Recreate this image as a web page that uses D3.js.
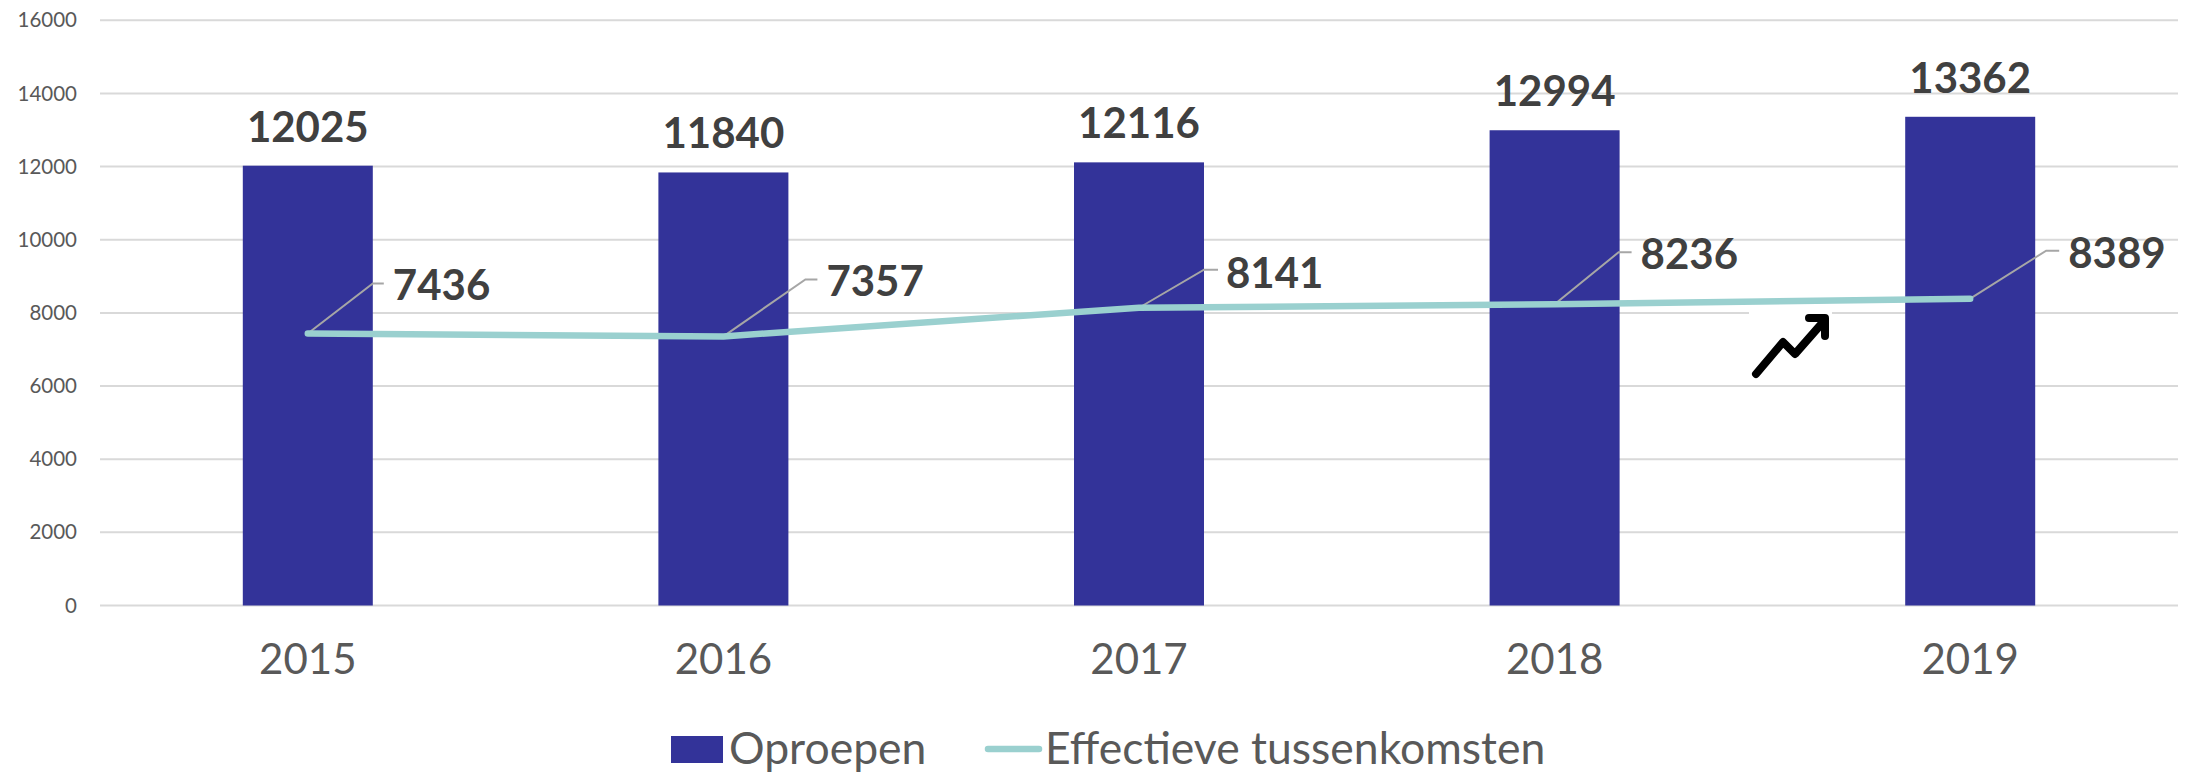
<!DOCTYPE html>
<html><head><meta charset="utf-8">
<style>html,body{margin:0;padding:0;background:#fff;overflow:hidden}svg{display:block}text{font-family:Lato,sans-serif}</style>
<script src="https://cdn.jsdelivr.net/npm/d3@7/dist/d3.min.js"></script>
</head><body><script>
const years = ["2015","2016","2017","2018","2019"];
const oproepen = [12025,11840,12116,12994,13362];
const tussenkomsten = [7436,7357,8141,8236,8389];
const yTicks = [0,2000,4000,6000,8000,10000,12000,14000,16000];
const seriesNames = ["Oproepen","Effectieve tussenkomsten"];
const leaderOffsets = [[65,-50,11],[82,-57,12],[65,-38,14],[64,-52,13],[76,-48,13]];
const labelDx = [85,103,87,86,98];
const labelDy = [-48.5,-55,-35,-50,-45.6];

const W=2185,H=775;
const svg=d3.select("body").append("svg").attr("width",W).attr("height",H);
const x=d3.scaleBand().domain(years).range([100,2178]);
const y=d3.scaleLinear().domain([0,16000]).range([605.5,20.3]);
const cx=d=>x(d)+x.bandwidth()/2;
const barW=130;
const barCol="#333399",lineCol="#9ad0cf",gridCol="#d9d9d9";

const gy=svg.append("g").attr("transform","translate(100,0)")
  .call(d3.axisLeft(y).tickValues(yTicks).tickSize(0).tickPadding(23).tickFormat(d3.format("d")));
gy.select(".domain").remove();
gy.selectAll("text").attr("font-size",20.5).attr("fill","#595959");
svg.append("g").selectAll("line").data(yTicks).join("line")
  .attr("x1",100).attr("x2",2178).attr("y1",d=>y(d)).attr("y2",d=>y(d))
  .attr("stroke",gridCol).attr("stroke-width",2);

svg.append("g").selectAll("rect").data(years).join("rect")
  .attr("x",d=>cx(d)-barW/2).attr("width",barW)
  .attr("y",(d,i)=>y(oproepen[i])).attr("height",(d,i)=>y(0)-y(oproepen[i]))
  .attr("fill",barCol);

const gx=svg.append("g").attr("transform","translate(0,605.5)")
  .call(d3.axisBottom(x).tickSize(0).tickPadding(39));
gx.select(".domain").remove();
gx.selectAll("text").attr("font-size",42).attr("fill","#595959");

svg.append("g").selectAll("text").data(years).join("text")
  .attr("x",cx).attr("y",(d,i)=>y(oproepen[i])-24)
  .attr("text-anchor","middle").attr("font-size",42).attr("font-weight",700).attr("fill","#404040")
  .text((d,i)=>oproepen[i]);

// white box behind the arrow icon
svg.append("rect").attr("x",1749).attr("y",305).attr("width",83).attr("height",75).attr("fill","#fff");

svg.append("g").selectAll("path").data(years).join("path")
  .attr("fill","none").attr("stroke","#a6a6a6").attr("stroke-width",2)
  .attr("d",(d,i)=>{const a=cx(d),b=y(tussenkomsten[i]),o=leaderOffsets[i];
    return `M${a},${b}L${a+o[0]},${b+o[1]}h${o[2]}`;});

svg.append("path").datum(tussenkomsten)
  .attr("fill","none").attr("stroke",lineCol).attr("stroke-width",6.5).attr("stroke-linecap","round").attr("stroke-linejoin","round")
  .attr("d",d3.line().x((d,i)=>cx(years[i])).y(d=>y(d)));

svg.append("g").selectAll("text").data(years).join("text")
  .attr("x",(d,i)=>cx(d)+labelDx[i])
  .attr("y",(d,i)=>y(tussenkomsten[i])+labelDy[i]+15)
  .attr("font-size",42).attr("font-weight",700).attr("fill","#404040")
  .text((d,i)=>tussenkomsten[i]);

// trend arrow icon
svg.append("path").attr("fill","none").attr("stroke","#000").attr("stroke-width",8)
  .attr("stroke-linecap","round").attr("stroke-linejoin","round")
  .attr("d","M1756,374L1783,342L1795,354L1824,321M1809,318H1825V336");

// legend
svg.append("rect").attr("x",671).attr("y",736).attr("width",52).attr("height",27).attr("fill",barCol);
svg.append("text").attr("x",729).attr("y",764).attr("font-size",44.5).attr("fill","#595959").text(seriesNames[0]);
svg.append("line").attr("x1",988).attr("x2",1039).attr("y1",749).attr("y2",749)
  .attr("stroke",lineCol).attr("stroke-width",6.5).attr("stroke-linecap","round");
svg.append("text").attr("x",1045).attr("y",764).attr("font-size",44.5).attr("fill","#595959").text(seriesNames[1]);
</script></body></html>
